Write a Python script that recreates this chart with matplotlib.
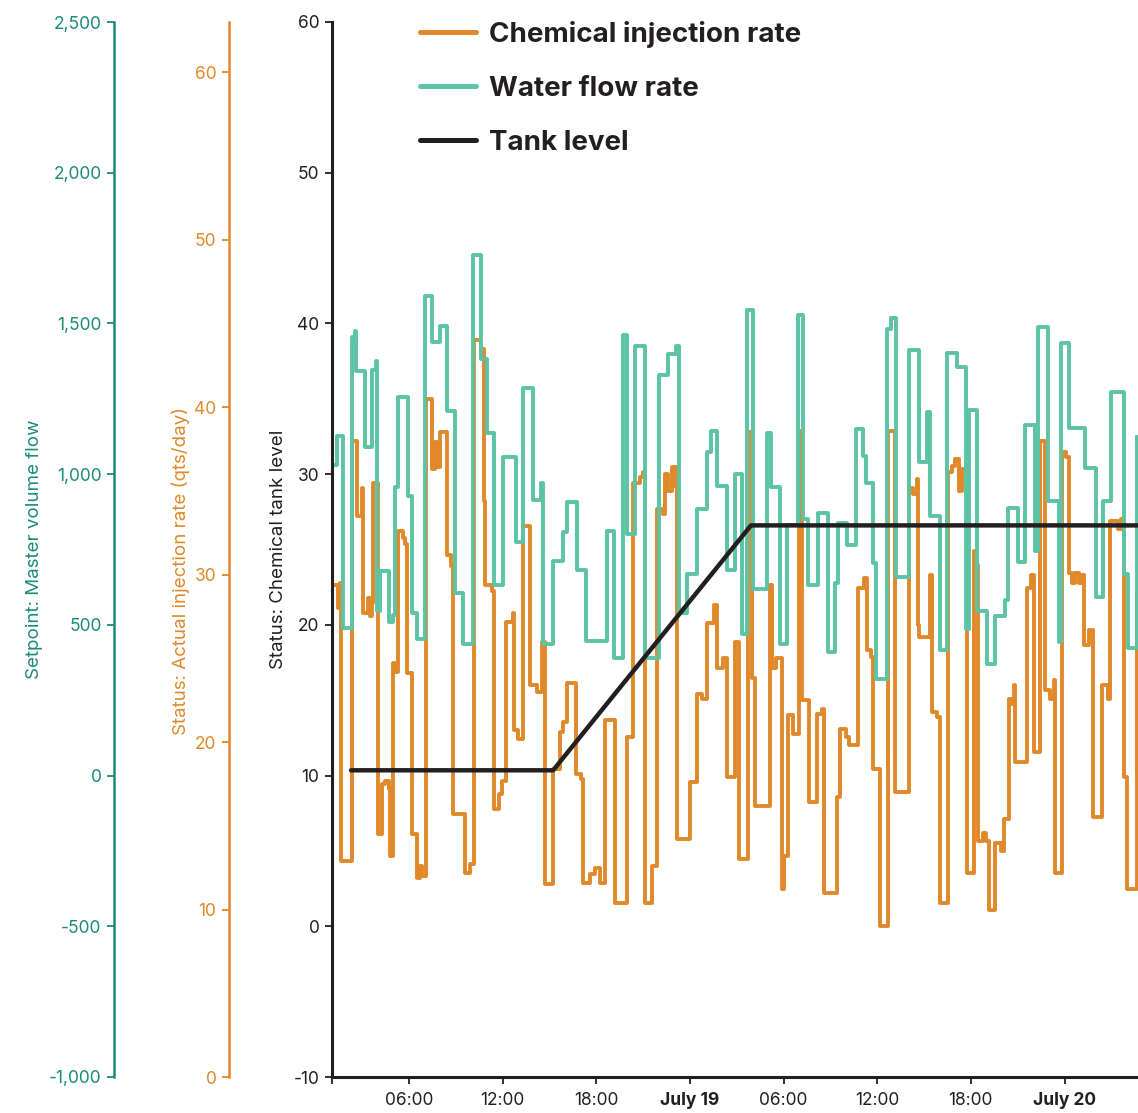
import matplotlib
matplotlib.use("Agg")
import matplotlib.pyplot as plt
from matplotlib.lines import Line2D
from matplotlib.ticker import FuncFormatter, MultipleLocator

plt.rcParams['font.family'] = ['Inter', 'DejaVu Sans']

# hours since July 18 00:00
tank_t = [2.28, 15.23, 27.91, 52.73]
tank_v = [10.35, 10.35, 26.6, 26.6]

green_t = [1.13, 1.38, 1.77, 2.35, 2.55, 2.60, 3.18, 3.63, 3.85, 3.95, 4.14, 4.72,
           5.00, 5.10, 5.29, 5.94, 6.19, 6.51, 7.03, 7.47, 7.99, 8.44, 8.95, 9.47,
           10.10, 10.62, 11.01, 11.46, 11.99, 12.86, 13.31, 13.95, 14.45, 14.60,
           15.23, 15.87, 16.10, 16.77, 17.35, 18.69, 19.14, 19.72, 19.96, 20.50,
           21.13, 22.03, 22.60, 23.12, 23.31, 23.82, 24.46, 25.10, 25.36, 25.74,
           26.38, 26.90, 27.35, 27.67, 28.05, 28.95, 29.21, 29.78, 30.23, 30.94,
           31.26, 31.58, 32.22, 32.86, 33.31, 33.50, 34.08, 34.65, 35.10, 35.29,
           35.74, 35.94, 36.64, 36.90, 37.22, 38.05, 38.69, 39.21, 39.35, 40.00,
           40.49, 41.13, 41.71, 41.90, 42.41, 43.06, 43.56, 44.21, 44.40, 45.04,
           45.49, 46.13, 46.30, 46.96, 47.67, 47.75, 48.31, 49.33, 50.04, 50.49,
           51.00, 51.83, 52.09, 52.67]
green_v = [1030, 1127, 490, 1455, 1475, 1342, 1090, 1345, 1375, 547, 680, 510,
           533, 958, 1256, 928, 540, 454, 1591, 1440, 1491, 1210, 606, 437,
           1727, 1382, 1137, 633, 1057, 775, 1286, 915, 971, 437,
           712, 808, 908, 683, 447, 812, 391, 1461, 800, 1425,
           391, 1329, 1398, 1425, 540, 669, 885, 1074, 1143, 961,
           683, 1001, 471, 1544, 620, 1137, 958, 437, 832, 1528,
           850, 633, 872, 411, 640, 838, 765, 1150, 1060, 971,
           706, 321, 1481, 1518, 659, 1412, 1040, 1205, 860, 418,
           1402, 1355, 486, 1213, 547, 371, 530, 583, 888, 709,
           1163, 744, 1488, 911, 444, 1435, 1153, 1021, 593, 911,
           1273, 669, 424, 1123]

orange_t = [1.26, 1.45, 1.58, 1.64, 2.33, 2.65, 2.97, 3.07, 3.39, 3.50, 3.60, 3.67,
            3.99, 4.25, 4.46, 4.70, 4.78, 4.95, 5.10, 5.32, 5.60, 5.75, 5.85, 6.17,
            6.49, 6.71, 6.85, 7.09, 7.45, 7.67, 7.82, 7.99, 8.42, 8.67, 8.84, 9.59,
            9.91, 10.17, 10.62, 10.81, 10.87, 11.30, 11.47, 11.73, 11.94, 12.22,
            12.65, 12.75, 13.00, 13.33, 13.76, 14.20, 14.51, 14.72, 15.21, 15.68,
            15.89, 16.15, 16.71, 17.00, 17.17, 17.60, 17.92, 18.24, 18.56, 19.21,
            19.96, 20.38, 20.80, 21.02, 21.13, 21.56, 21.88, 22.30, 22.41, 22.62,
            22.84, 22.95, 23.12, 23.20, 23.97, 24.44, 24.80, 25.12, 25.51, 25.76,
            26.10, 26.37, 26.90, 27.17, 27.75, 27.97, 28.18, 29.14, 29.25, 29.50,
            29.89, 30.00, 30.31, 30.63, 30.96, 31.17, 31.60, 32.13, 32.46, 32.60,
            33.42, 33.63, 34.00, 34.22, 34.74, 35.12, 35.34, 35.60, 35.72, 36.19,
            36.66, 37.11, 38.01, 38.30, 38.54, 38.58, 38.70, 39.40, 39.51, 39.80,
            40.04, 40.51, 40.80, 41.00, 41.26, 41.43, 41.75, 42.17, 42.35, 42.43,
            42.80, 43.00, 43.13, 43.56, 43.90, 44.14, 44.42, 44.65, 44.75, 44.80,
            45.60, 45.85, 46.02, 46.45, 46.77, 47.10, 47.30, 47.41, 47.84, 48.10,
            48.26, 48.50, 48.70, 48.90, 49.10, 49.27, 49.60, 49.83, 50.40, 50.80,
            50.94, 51.40, 51.60, 51.79, 52.01, 52.65]
orange_v = [29.4, 28.0, 29.5, 12.9, 38.0, 33.5, 35.2, 27.7, 28.6, 27.5, 28.3, 35.5,
            14.5, 17.5, 17.7, 17.2, 13.2, 24.7, 24.2, 32.6, 32.2, 31.8, 24.1, 14.5,
            11.9, 12.6, 12.0, 40.5, 36.3, 37.9, 36.4, 38.5, 31.2, 30.5, 15.7, 12.2,
            12.7, 44.0, 43.5, 34.4, 29.4, 29.0, 16.0, 16.9, 17.7, 27.2,
            27.7, 20.7, 20.2, 32.9, 23.4, 23.0, 26.0, 11.5, 18.4, 20.6,
            21.2, 23.5, 18.1, 17.8, 11.6, 12.1, 12.5, 11.6, 21.3, 10.4,
            20.3, 35.5, 35.8, 36.1, 10.4, 12.6, 33.9, 33.6, 36.0, 35.0,
            36.4, 35.3, 36.4, 14.2, 17.6, 22.9, 22.6, 27.1, 28.2, 24.4,
            25.0, 17.9, 26.0, 13.0, 38.5, 23.8, 16.2, 29.4, 24.4, 25.0,
            11.2, 13.2, 21.6, 20.5, 38.6, 22.5, 16.4, 21.7, 22.0, 11.0,
            16.7, 20.8, 20.3, 19.8, 29.2, 29.8, 25.5, 25.1, 18.4, 9.0,
            38.6, 17.0, 35.2, 34.8, 35.7, 27.0, 26.3, 30.0, 21.8, 21.5,
            10.4, 36.1, 36.5, 36.9, 35.0, 36.3, 12.2, 31.4, 30.6, 14.1,
            14.6, 14.1, 10.0, 14.0, 13.5, 15.4, 22.6, 22.3, 23.4, 18.8,
            29.2, 30.0, 19.4, 38.0, 23.1, 22.6, 23.7, 12.2, 37.3, 37.0,
            30.1, 29.5, 30.1, 29.5, 30.0, 25.8, 26.7, 15.5, 23.4, 22.6,
            33.2, 32.7, 33.3, 17.9, 11.2, 28.6]

x_ticks = [6, 12, 18, 24, 30, 36, 42, 48]
x_labels = ['06:00', '12:00', '18:00', 'July 19', '06:00', '12:00', '18:00', 'July 20']

ORANGE = '#e0882a'
GREEN = '#5cc3a5'
TEAL = '#1b8b79'
DARK = '#231f20'

fig = plt.figure(figsize=(11.38, 11.13), dpi=100)
ax = fig.add_axes([332 / 1138, 36 / 1113, 806 / 1138, 1055 / 1113])
ax_o = ax.twinx()
ax_g = ax.twinx()

ax.set_zorder(3)
ax.patch.set_visible(False)
ax_g.set_zorder(2)
ax_o.set_zorder(1)

ax_o.plot(orange_t, orange_v, drawstyle='steps-post', color=ORANGE, lw=2.8)
ax_g.plot(green_t, green_v, drawstyle='steps-post', color=GREEN, lw=2.8)
ax.plot(tank_t, tank_v, color=DARK, lw=3.2, solid_capstyle='round')

ax.set_xlim(1.06, 52.71)
ax.set_ylim(-10, 60)
ax_o.set_ylim(0, 63)
ax_g.set_ylim(-1000, 2500)

for a in (ax, ax_o, ax_g):
    for s in ('top', 'right', 'bottom'):
        a.spines[s].set_visible(False)
ax.spines['bottom'].set_visible(True)
ax.spines['bottom'].set_color(DARK)
ax.spines['bottom'].set_linewidth(2.2)
ax.spines['left'].set_color(DARK)
ax.spines['left'].set_linewidth(2.2)

for a, pos, col in ((ax_o, -103 / 806, ORANGE), (ax_g, -218 / 806, TEAL)):
    a.yaxis.set_ticks_position('left')
    a.yaxis.set_label_position('left')
    a.spines['left'].set_visible(True)
    a.spines['left'].set_position(('axes', pos))
    a.spines['left'].set_color(col)
    a.spines['left'].set_linewidth(1.8)
    a.tick_params(axis='y', colors=col, labelcolor=col, length=5, width=1.3,
                  pad=4, labelsize=12.5)

ax.tick_params(axis='y', colors=DARK, length=5, width=1.3, pad=4, labelsize=12.5)
ax.tick_params(axis='x', which='both', colors=DARK, length=5, width=1.3, pad=6,
               labelsize=12.5)
ax.yaxis.set_major_locator(MultipleLocator(10))
ax_o.yaxis.set_major_locator(MultipleLocator(10))
ax_g.yaxis.set_major_locator(MultipleLocator(500))
ax_g.yaxis.set_major_formatter(FuncFormatter(lambda v, p: f'{v:,.0f}'))
ax.yaxis.set_major_formatter(FuncFormatter(lambda v, p: f'{v:.0f}'))

ax.set_xticks(x_ticks)
ax.set_xticklabels(x_labels)
ax.set_xticks([1.06], minor=True)
for lab in ax.get_xticklabels():
    if lab.get_text().startswith('July'):
        lab.set_fontweight('bold')

ax_g.set_ylabel('Setpoint: Master volume flow', color=TEAL, fontsize=13.5)
ax_o.set_ylabel('Status: Actual injection rate (qts/day)', color=ORANGE, fontsize=13.5)
ax.set_ylabel('Status: Chemical tank level', color=DARK, fontsize=13.5)
ax_g.yaxis.set_label_coords((43 - 332) / 806, 0.5)
ax_o.yaxis.set_label_coords((190 - 332) / 806, 0.48)
ax.yaxis.set_label_coords((287 - 332) / 806, 0.5)

handles = [Line2D([], [], color=ORANGE, lw=3.6, solid_capstyle='round'),
           Line2D([], [], color=GREEN, lw=3.6, solid_capstyle='round'),
           Line2D([], [], color=DARK, lw=3.6, solid_capstyle='round')]
ax.legend(handles, ['Chemical injection rate', 'Water flow rate', 'Tank level'],
          loc='upper left', bbox_to_anchor=(88 / 806, 1.001), frameon=False,
          borderpad=0, borderaxespad=0, handlelength=2.0, handletextpad=0.5,
          labelspacing=1.0, prop={'size': 20, 'weight': 'bold'}, labelcolor=DARK)

fig.savefig('out.png', dpi=100)
